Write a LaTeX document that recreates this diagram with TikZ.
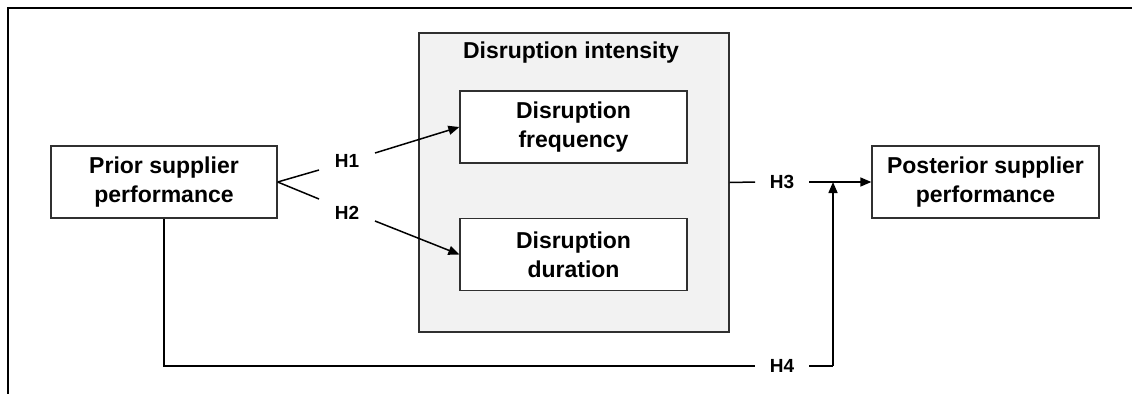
\documentclass[tikz,border=0pt]{standalone}
\usepackage{fontspec}
\setmainfont{Liberation Sans}
\usetikzlibrary{arrows.meta}
\definecolor{boxline}{HTML}{303030}
\definecolor{panel}{HTML}{F2F2F2}
\begin{document}
\begin{tikzpicture}[x=1pt,y=-1pt,
  every node/.style={font=\fontsize{23}{29}\selectfont\bfseries, text=black},
  varbox/.style={draw=boxline, line width=1.3pt, fill=white, minimum width=227pt, minimum height=72pt, inner sep=0pt, align=center},
  panelbox/.style={draw=boxline, line width=1.3pt, fill=panel, minimum width=310pt, minimum height=299pt, inner sep=0pt},
  hlabel/.style={font=\fontsize{19}{22}\selectfont\bfseries, inner sep=0pt},
  conn/.style={line width=1.5pt, draw=black},
  arr/.style={conn, -{Triangle[length=11pt,width=9pt]}},
  frame/.style={line width=2pt, draw=black}
]
\useasboundingbox (0,0) rectangle (1132,394);
\draw[frame] (1132,7.5) -- (7.5,7.5) -- (7.5,394);

\node[panelbox] (outer) at (574,182.5) {};
\node (title) at (571,53) {Disruption intensity};
\node[varbox, minimum width=226pt] (prior) at (164,182) {Prior supplier\\performance};
\node[varbox] (freq) at (573.5,127) {Disruption\\frequency};
\node[varbox] (dur) at (573.5,254.5) {Disruption\\duration};
\node[varbox] (post) at (985.5,182) {Posterior supplier\\performance};

\node[hlabel] (h1) at (347,161) {H1};
\node[hlabel] (h2) at (347,213) {H2};
\node[hlabel] (h3) at (782,182) {H3};
\node[hlabel] (h4) at (782,366) {H4};

\coordinate (h1a) at (319,170);
\coordinate (h1b) at (375,153);
\coordinate (h2a) at (319,199);
\coordinate (h2b) at (375,221);
\coordinate (h3a) at (755,182);
\coordinate (h3b) at (809,182);
\coordinate (join) at (833,182);
\coordinate (h4a) at (755,366);
\coordinate (h4b) at (809,366);
\coordinate (h4c) at (833,366);

\draw[conn] (prior.east) -- (h1a);
\draw[conn] (prior.east) -- (h2a);
\draw[arr] (h1b) -- (freq.west);
\draw[arr] (h2b) -- (dur.west);
\draw[conn] (outer.east) -- (h3a);
\draw[arr] (h3b) -- (post.west);
\draw[conn] (prior.south) |- (h4a);
\draw[conn] (h4b) -- (h4c);
\draw[arr] (h4c) -- (join);
\end{tikzpicture}
\end{document}
